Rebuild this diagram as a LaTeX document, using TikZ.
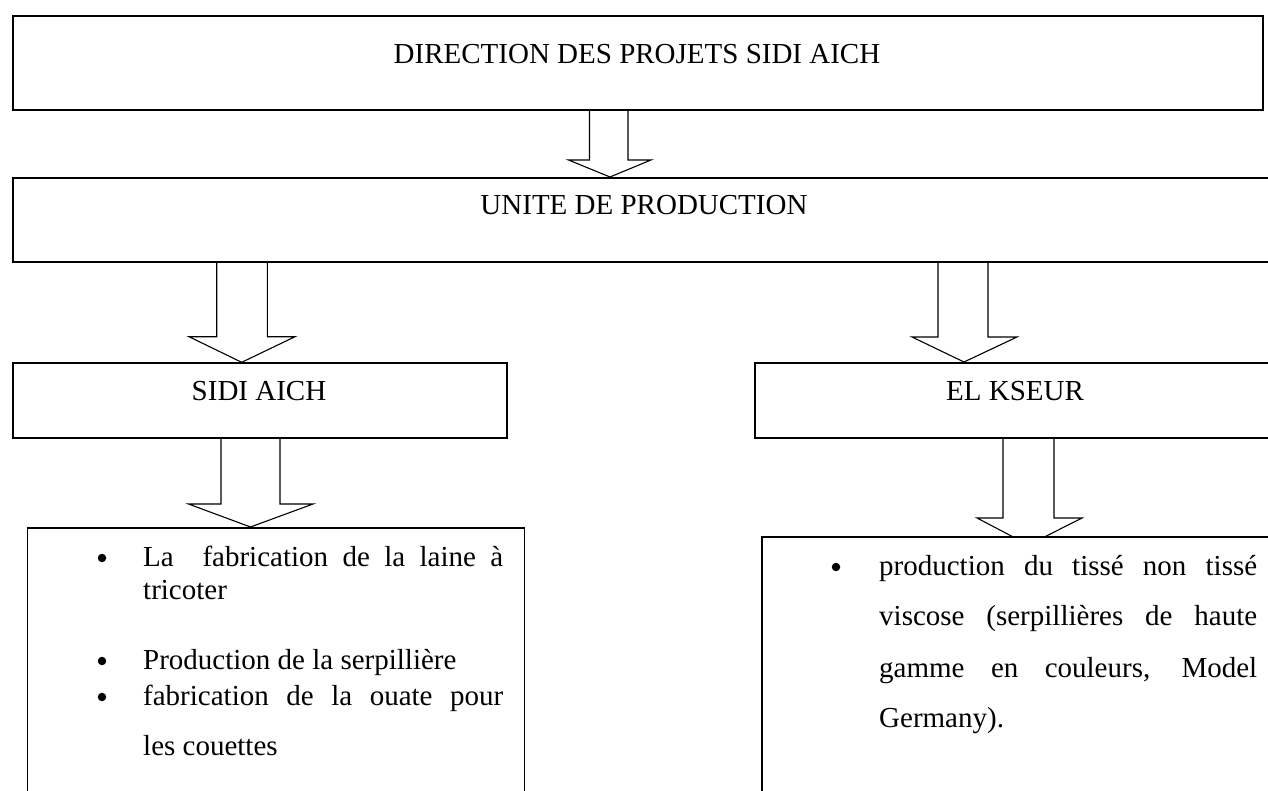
\documentclass[tikz,border=0pt]{standalone}
\usepackage{fontspec}
\setmainfont{Liberation Serif}
\tikzset{
  box/.style={draw, line width=1.8pt, fill=white, inner sep=0pt, anchor=north west},
  blockline/.style={draw, line width=1.1pt, line join=miter},
  lbl/.style={inner sep=0pt, anchor=base, font=\fontsize{29}{35}\selectfont},
  itemtxt/.style={inner sep=0pt, anchor=base west, font=\fontsize{29}{35}\selectfont},
  bul/.style={circle, fill=black, inner sep=0pt, minimum size=8.5pt},
}
% block arrow: shaft left/right, head left/right, tip x, top y, head base y, tip y
\newcommand\blockarr[8]{%
  \draw[blockline] (#1,#6) -- (#1,#7) -- (#3,#7) -- (#5,#8) -- (#4,#7) -- (#2,#7) -- (#2,#6);}
\begin{document}
\begin{tikzpicture}[x=1pt,y=-1pt]
\clip (0,0) rectangle (1268,791);
\fill[white] (0,0) rectangle (1268,791);

% block arrows (drawn first, boxes cover their tips)
\blockarr{589.5}{628}{568.5}{651}{610}{109}{160}{177}
\blockarr{216.7}{267.3}{189}{295}{241.7}{261}{336.7}{362.3}
\blockarr{938}{988}{912}{1017}{964}{261}{337}{362}
\blockarr{221}{280}{188.5}{313}{250.5}{437}{504}{527}
\blockarr{1003}{1054}{977}{1082}{1028.5}{437}{518}{545}

% boxes
\node[box, minimum width=1250pt, minimum height=94pt] (dir) at (12,15) {};
\node[box, minimum width=1264pt, minimum height=84pt] (unit) at (12,177) {};
\node[box, minimum width=494pt, minimum height=75pt] (sidi) at (12,362) {};
\node[box, minimum width=526pt, minimum height=75pt] (elk) at (754,362) {};
\node[box, minimum width=497pt, minimum height=290pt] (lbox) at (26.5,527) {};
\node[box, minimum width=540pt, minimum height=290pt] (rbox) at (761,536) {};

% titles
\node[lbl] (dirt) at (637,64) {DIRECTION DES PROJETS SIDI AICH};
\node[lbl] (unitt) at (644,215) {UNITE DE PRODUCTION};
\node[lbl] (sidit) at (259,400) {SIDI AICH};
\node[lbl] (elkt) at (1015,400) {EL KSEUR};

% left list
\node[bul] (lb1) at (102,558) {};
\node[itemtxt] (l1) at (143,566) {\makebox[360pt][s]{La\ \ fabrication de la laine à}};
\node[itemtxt] (l2) at (143,599) {tricoter};
\node[bul] (lb2) at (102,661) {};
\node[itemtxt] (l3) at (143,669) {Production de la serpillière};
\node[bul] (lb3) at (102,697) {};
\node[itemtxt] (l4) at (143,705) {\makebox[360pt][s]{fabrication de la ouate pour}};
\node[itemtxt] (l5) at (143,755) {les couettes};

% right list
\node[bul] (rb1) at (836,567) {};
\node[itemtxt] (r1) at (879,575) {\makebox[378pt][s]{production du tissé non tissé}};
\node[itemtxt] (r2) at (879,625) {\makebox[378pt][s]{viscose (serpillières de haute}};
\node[itemtxt] (r3) at (879,677) {\makebox[378pt][s]{gamme en couleurs, Model}};
\node[itemtxt] (r4) at (879,727) {Germany).};
\end{tikzpicture}
\end{document}
